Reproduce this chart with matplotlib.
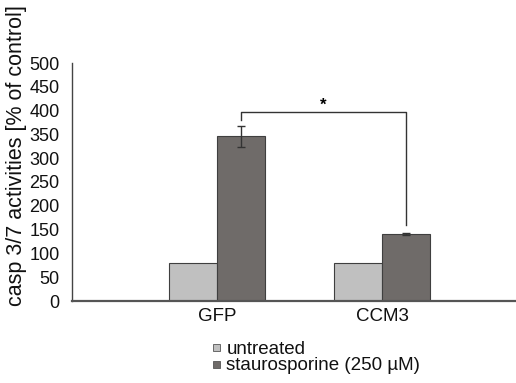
import matplotlib
matplotlib.use("Agg")
import matplotlib.pyplot as plt
import numpy as np
from matplotlib.patches import Rectangle

plt.rcParams['font.family'] = ['Liberation Sans', 'DejaVu Sans']

categories = ["GFP", "CCM3"]
untreated = [80, 80]
stauro = [346, 141]
stauro_err = [22, 2]
series_names = ["untreated", "staurosporine (250 µM)"]
yticks = [0, 50, 100, 150, 200, 250, 300, 350, 400, 450, 500]

c_light = "#c0c0c0"
c_dark = "#6f6b69"
edge = "#3f3f3f"

fig = plt.figure(figsize=(5.16, 3.83), dpi=100)
ax = fig.add_axes([72/516, 1-301/383, 1-72/516, (301-63)/383])

x = np.arange(len(categories))
w = 0.29
ax.bar(x - w/2, untreated, w, color=c_light, edgecolor=edge, linewidth=0.8, zorder=2)
ax.bar(x + w/2, stauro, w, color=c_dark, edgecolor=edge, linewidth=0.8, zorder=2,
       yerr=stauro_err, error_kw=dict(ecolor="#333333", elinewidth=1.0, capsize=3, capthick=1.0))

ax.set_xlim(-0.879, 1.812)
ax.set_ylim(0, 500)
ax.set_yticks(yticks)
ax.set_yticklabels([str(t) for t in yticks], fontsize=13)
ax.set_xticks(x)
ax.set_xticklabels(categories, fontsize=13.5)
ax.tick_params(axis='both', length=0, pad=9, colors="#111111")
ax.tick_params(axis='x', pad=5)
for s in ["top", "right"]:
    ax.spines[s].set_visible(False)
ax.spines["left"].set_color("#444444")
ax.spines["bottom"].set_color("#555555")
ax.spines["bottom"].set_linewidth(1.6)
ax.spines["left"].set_linewidth(1.0)

ax.set_ylabel("casp 3/7 activities [% of control]", fontsize=15.5, color="#111111")
ax.yaxis.set_label_coords(-0.101, 0.61)

# significance bracket
xl = x[0] + w/2
xr = x[1] + w/2
yb = 397
ax.plot([xl, xl, xr, xr], [380, yb, yb, 159], color="#333333", lw=1.0, zorder=3)
ax.text((xl + xr)/2, 412, "*", ha="center", va="center", fontsize=12, fontweight="bold")

# legend drawn manually
leg_colors = [c_light, c_dark]
leg_y = [347, 364]
for name, col, yy in zip(series_names, leg_colors, leg_y):
    fig.patches.append(Rectangle((213/516, 1-(yy+3.5)/383), 7/516, 7/383,
                                 transform=fig.transFigure, facecolor=col,
                                 edgecolor="#555555", linewidth=0.6))
    fig.text(226.5/516, 1-yy/383, name, ha="left", va="center_baseline", fontsize=13.5,
             color="#111111")

fig.savefig("out.png", dpi=100)
